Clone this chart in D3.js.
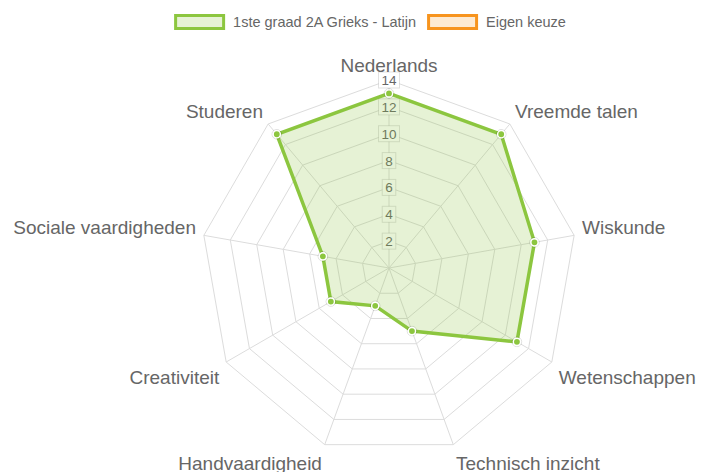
<!DOCTYPE html>
<html>
<head>
<meta charset="utf-8">
<script src="https://cdn.jsdelivr.net/npm/d3@7"></script>
<style>
  html, body { margin: 0; padding: 0; background: #fff; }
  svg { display: block; }
  text { font-family: "Liberation Sans", Arial, sans-serif; }
</style>
</head>
<body>
<svg id="chart" width="701" height="472"></svg>
<script>
const categories = ["Nederlands", "Vreemde talen", "Wiskunde", "Wetenschappen", "Technisch inzicht",
  "Handvaardigheid", "Creativiteit", "Sociale vaardigheden", "Studeren"];
const seriesNames = ["1ste graad 2A Grieks - Latijn", "Eigen keuze"];
const griekLatijn = [13, 13, 11, 11, 5, 3, 5, 5, 13];
const eigenKeuze = [0, 0, 0, 0, 0, 0, 0, 0, 0];
const tickValues = [2, 4, 6, 8, 10, 12, 14];
const scaleMax = 14;

const colors = {
  green: "rgb(140,198,63)", greenFill: "rgba(140,198,63,0.22)",
  orange: "rgb(247,148,30)", orangeFill: "rgba(247,148,30,0.2)"
};

const svg = d3.select("#chart");
const cx = 389, cy = 268, R = 188;
const r = d3.scaleLinear().domain([0, scaleMax]).range([0, R]);
const angle = d3.scalePoint().domain(categories).range([0, 2 * Math.PI * (categories.length) / categories.length]).padding(0);
const angleOf = i => (2 * Math.PI * i) / categories.length;
const pt = (i, rad) => [cx + rad * Math.sin(angleOf(i)), cy - rad * Math.cos(angleOf(i))];

const g = svg.append("g");

// grid rings
const ringVals = tickValues;
ringVals.forEach(v => {
  const pts = categories.map((c, i) => pt(i, r(v)));
  g.append("polygon")
    .attr("points", pts.map(p => p.join(",")).join(" "))
    .attr("fill", "none").attr("stroke", "#dcdcdc").attr("stroke-width", 1);
});
// angle lines
categories.forEach((c, i) => {
  const p = pt(i, R);
  g.append("line").attr("x1", cx).attr("y1", cy).attr("x2", p[0]).attr("y2", p[1])
    .attr("stroke", "#dcdcdc").attr("stroke-width", 1);
});

// tick labels with backdrop
const tickG = g.append("g");
tickValues.forEach(v => {
  const y = cy - r(v);
  const t = tickG.append("text").attr("x", cx).attr("y", y + 5)
    .attr("text-anchor", "middle").attr("font-size", 13.5).attr("fill", "#666").text(v);
  const w = t.node().getComputedTextLength();
  tickG.insert("rect", "text").attr("x", cx - w / 2 - 3).attr("y", y - 8)
    .attr("width", w + 6).attr("height", 16)
    .attr("fill", "#fff").attr("stroke", "rgba(0,0,0,0.12)").attr("stroke-width", 1);
});

// point labels
const labelSize = 19, labelDist = R + 8;
categories.forEach((c, i) => {
  const a = angleOf(i);
  const p = pt(i, labelDist);
  const deg = Math.round(a * 180 / Math.PI) % 360;
  let anchor = "middle";
  if (deg > 0 && deg < 180) anchor = "start";
  else if (deg > 180) anchor = "end";
  let y = p[1];
  if (deg > 90 && deg < 270) y = p[1] + 18;
  else if (deg === 90 || deg === 270) y = p[1] + 9;
  g.append("text").attr("x", p[0]).attr("y", y).attr("text-anchor", anchor)
    .attr("font-size", labelSize).attr("fill", "#666").text(c);
});

// datasets
const line = d3.lineRadial().angle((d, i) => angleOf(i)).radius(d => r(d)).curve(d3.curveLinearClosed);
const dataG = svg.append("g").attr("transform", `translate(${cx},${cy})`);
[[eigenKeuze, colors.orange, colors.orangeFill], [griekLatijn, colors.green, colors.greenFill]].forEach(([vals, col, fill]) => {
  dataG.append("path").attr("d", line(vals)).attr("fill", fill)
    .attr("stroke", col).attr("stroke-width", 3.5).attr("stroke-linejoin", "miter");
});
griekLatijn.forEach((v, i) => {
  const p = pt(i, r(v));
  svg.append("circle").attr("cx", p[0]).attr("cy", p[1]).attr("r", 4.8)
    .attr("fill", "none").attr("stroke", "rgba(0,0,0,0.12)").attr("stroke-width", 1);
  svg.append("circle").attr("cx", p[0]).attr("cy", p[1]).attr("r", 3.6)
    .attr("fill", colors.green).attr("stroke", "#fff").attr("stroke-width", 1.4);
});

// legend
const legend = svg.append("g");
const legItems = [[seriesNames[0], colors.green, colors.greenFill], [seriesNames[1], colors.orange, colors.orangeFill]];
const boxW = 48, boxH = 13, gapText = 8, gapItem = 11, legFont = 14.5, legY = 22;
let items = legItems.map(([name, col, fill]) => {
  const ig = legend.append("g");
  ig.append("rect").attr("x", 1.5).attr("y", legY - boxH / 2).attr("width", boxW).attr("height", boxH)
    .attr("fill", fill).attr("stroke", col).attr("stroke-width", 3);
  const t = ig.append("text").attr("x", boxW + 3 + gapText).attr("y", legY + 5)
    .attr("font-size", legFont).attr("fill", "#666").text(name);
  return { ig, w: boxW + 3 + gapText + t.node().getComputedTextLength() };
});
const total = d3.sum(items, d => d.w) + gapItem * (items.length - 1);
let x0 = 370 - total / 2;
items.forEach(it => { it.ig.attr("transform", `translate(${x0},0)`); x0 += it.w + gapItem; });
</script>
</body>
</html>
